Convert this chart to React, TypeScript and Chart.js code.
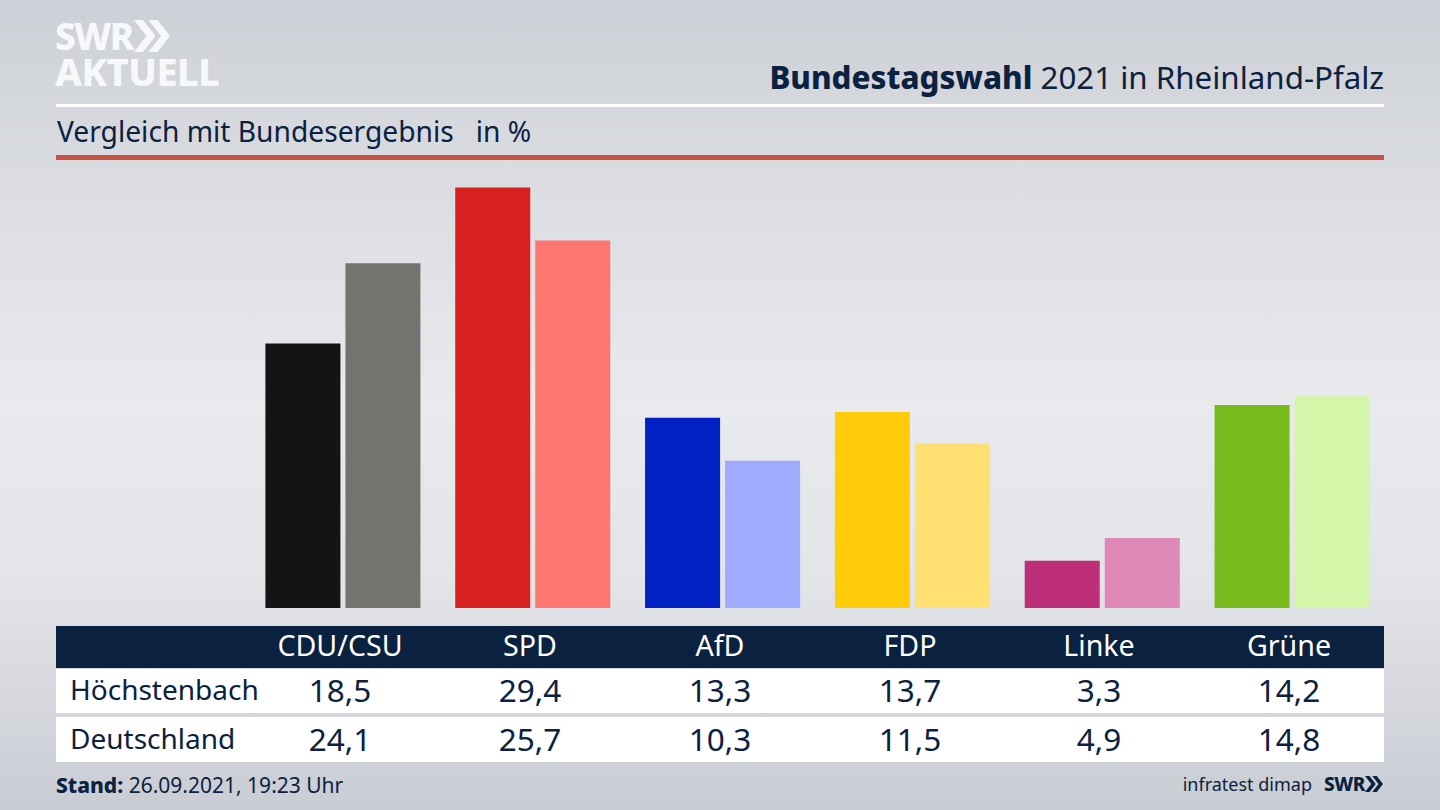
import { useEffect, useRef } from 'react';
import { Chart, registerables } from 'chart.js';

Chart.register(...registerables);

const parties = ['CDU/CSU', 'SPD', 'AfD', 'FDP', 'Linke', 'Grüne'];
const regionName = 'Höchstenbach';
const nationName = 'Deutschland';
const regionValues = [18.5, 29.4, 13.3, 13.7, 3.3, 14.2];
const nationValues = [24.1, 25.7, 10.3, 11.5, 4.9, 14.8];
const regionColors = ['#141414', '#d8201f', '#0221c4', '#ffcc0a', '#bd2f78', '#78bb1c'];
const nationColors = ['#74736f', '#ff7570', '#9eabff', '#ffe070', '#e088b8', '#d3f6a8'];

const NAVY = '#0b2140';
const FONT = '"Noto Sans", sans-serif';
const columnCenters = [340, 530, 720, 910, 1099, 1289];

const fmt = (v: number) => v.toFixed(1).replace('.', ',');

function Chevrons({ x, y, h, color }: { x: number; y: number; h: number; color: string }) {
  // the two arrows of the SWR logo
  const w = h * 0.67;
  const pts = (o: number) =>
    `${o},0 ${o + w * 0.42},0 ${o + w},${h / 2} ${o + w * 0.42},${h} ${o},${h} ${o + w * 0.58},${h / 2}`;
  return (
    <svg style={{ position: 'absolute', left: x, top: y }} width={w * 1.7} height={h}>
      <polygon points={pts(0)} fill={color} />
      <polygon points={pts(w * 0.68)} fill={color} />
    </svg>
  );
}

function Label(props: {
  x: number;
  y: number;
  size: number;
  color?: string;
  align?: 'left' | 'center' | 'right';
  weight?: number;
  spacing?: number;
  children: React.ReactNode;
}) {
  const { x, y, size, color = NAVY, align = 'left', weight = 400, spacing = 0, children } = props;
  const shift = align === 'center' ? 'translate(-50%, -50%)' : align === 'right' ? 'translate(-100%, -50%)' : 'translateY(-50%)';
  return (
    <div
      style={{
        position: 'absolute',
        left: x,
        top: y,
        transform: shift,
        fontSize: size,
        color,
        fontWeight: weight,
        letterSpacing: spacing,
        whiteSpace: 'pre',
        lineHeight: 1,
      }}
    >
      {children}
    </div>
  );
}

function Rect({ x, y, w, h, color }: { x: number; y: number; w: number; h: number; color: string }) {
  return <div style={{ position: 'absolute', left: x, top: y, width: w, height: h, background: color }} />;
}

export default function App() {
  const canvasRef = useRef<HTMLCanvasElement>(null);

  useEffect(() => {
    if (!canvasRef.current) return;
    const chart = new Chart(canvasRef.current, {
      type: 'bar',
      data: {
        labels: parties,
        datasets: [
          { label: regionName, data: regionValues, backgroundColor: regionColors, borderWidth: 0 },
          { label: nationName, data: nationValues, backgroundColor: nationColors, borderWidth: 0 },
        ],
      },
      options: {
        responsive: false,
        animation: false,
        // 160px per group, 75px bars with a 5px gap
        datasets: { bar: { categoryPercentage: 0.843, barPercentage: 0.9375 } },
        layout: { padding: 0 },
        scales: {
          x: { display: false },
          y: { display: false, min: 0, max: 30 },
        },
        plugins: { legend: { display: false }, tooltip: { enabled: false } },
      },
    });
    return () => chart.destroy();
  }, []);

  return (
    <div
      style={{
        position: 'fixed',
        left: 0,
        top: 0,
        width: 1440,
        height: 810,
        overflow: 'hidden',
        fontFamily: FONT,
        background: 'linear-gradient(180deg, #cdd0d6 0%, #dcdee3 25%, #e9eaee 50%, #e2e4e8 72%, #c9ccd3 100%)',
      }}
    >
      <Label x={55} y={35} size={37} color="#f7f8f9" weight={800} spacing={-1.5}>SWR</Label>
      <Chevrons x={134} y={20} h={32} color="#f7f8f9" />
      <Label x={55} y={71} size={38} color="#f7f8f9" weight={800} spacing={-0.5}>AKTUELL</Label>

      <Label x={1384} y={78} size={31.3} align="right">
        <b style={{ fontWeight: 800 }}>Bundestagswahl</b> 2021 in Rheinland-Pfalz
      </Label>
      <Rect x={56} y={104} w={1328} h={3} color="#ffffff" />
      <Label x={57} y={131} size={28.2}>{'Vergleich mit Bundesergebnis   in %'}</Label>
      <Rect x={56} y={155} w={1328} h={5} color="#c8523f" />

      <canvas
        ref={canvasRef}
        width={1139}
        height={429}
        style={{ position: 'absolute', left: 248, top: 179, width: 1139, height: 429 }}
      />

      <Rect x={56} y={626} w={1328} h={42} color={NAVY} />
      <Rect x={56} y={669} w={1328} h={44} color="#ffffff" />
      <Rect x={56} y={717} w={1328} h={45} color="#ffffff" />

      {parties.map((p, i) => (
        <Label key={p} x={columnCenters[i]} y={645} size={28.6} color="#ffffff" align="center">{p}</Label>
      ))}
      <Label x={70} y={689} size={28}>{regionName}</Label>
      <Label x={70} y={738} size={28}>{nationName}</Label>
      {regionValues.map((v, i) => (
        <Label key={i} x={columnCenters[i]} y={690} size={31.5} align="center">{fmt(v)}</Label>
      ))}
      {nationValues.map((v, i) => (
        <Label key={i} x={columnCenters[i]} y={739} size={31.5} align="center">{fmt(v)}</Label>
      ))}

      <Label x={56} y={785} size={21}>
        <b style={{ fontWeight: 800 }}>Stand:</b> 26.09.2021, 19:23 Uhr
      </Label>
      <Label x={1312} y={784} size={18} align="right">infratest dimap</Label>
      <Label x={1324} y={784} size={19} weight={800} spacing={-0.5}>SWR</Label>
      <Chevrons x={1365} y={776} h={16} color={NAVY} />
    </div>
  );
}
